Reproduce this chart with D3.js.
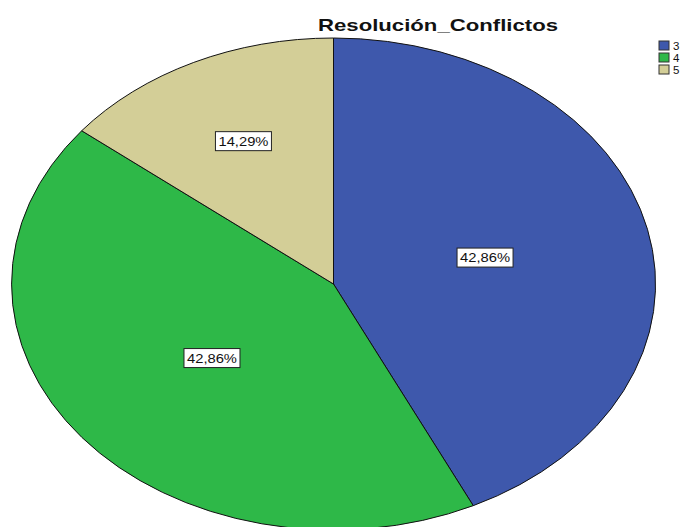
<!DOCTYPE html>
<html>
<head>
<meta charset="utf-8">
<script src="https://cdn.jsdelivr.net/npm/d3@7"></script>
<style>
  body { margin: 0; background: #fff; }
  svg { font-family: "Liberation Sans", Arial, sans-serif; }
</style>
</head>
<body>
<div id="wrapper"></div>
<script>
// data
const categories = ["3", "4", "5"]
const values = [42.86, 42.86, 14.29]
const labels = ["42,86%", "42,86%", "14,29%"]
const colors = ["#3e58ac", "#2eb848", "#d3ce97"]
const title = "Resolución_Conflictos"

const width = 686
const height = 527
const cx = 333.5, cy = 284
const rx = 322, ry = 246

const svg = d3.select("#wrapper")
    .append("svg")
    .attr("width", width)
    .attr("height", height)

const data = categories.map((c, i) => ({ cat: c, value: values[i], label: labels[i], color: colors[i] }))

const pie = d3.pie()
    .sort(null)
    .value(d => d.value)

const arcs = pie(data)

// unit circle arc, stretched into an ellipse
const arc = d3.arc().innerRadius(0).outerRadius(1)

const pieG = svg.append("g")
    .attr("transform", `translate(${cx},${cy}) scale(${rx},${ry})`)

pieG.selectAll("path")
    .data(arcs)
    .join("path")
    .attr("d", arc)
    .attr("fill", d => d.data.color)
    .attr("stroke", "#111")
    .attr("stroke-width", 1)
    .attr("vector-effect", "non-scaling-stroke")

// labels near the area centroid of each slice
const labelPos = d => {
    const half = (d.endAngle - d.startAngle) / 2
    const mid = (d.startAngle + d.endAngle) / 2
    const r = (2 / 3) * Math.sin(half) / half
    return [cx + Math.sin(mid) * r * rx, cy - Math.cos(mid) * r * ry]
}

const labelG = svg.append("g")
    .selectAll("g")
    .data(arcs)
    .join("g")
    .attr("transform", d => `translate(${labelPos(d)})`)

labelG.append("rect")
    .attr("x", -28)
    .attr("y", -9.5)
    .attr("width", 56)
    .attr("height", 19)
    .attr("fill", "#fff")
    .attr("stroke", "#222")
    .attr("stroke-width", 1)

labelG.append("text")
    .attr("text-anchor", "middle")
    .attr("dy", "0.36em")
    .attr("textLength", 50)
    .attr("lengthAdjust", "spacingAndGlyphs")
    .style("font-size", "13px")
    .attr("fill", "#111")
    .text(d => d.data.label)

// title
svg.append("text")
    .attr("x", 438)
    .attr("y", 31)
    .attr("text-anchor", "middle")
    .attr("textLength", 240)
    .attr("lengthAdjust", "spacingAndGlyphs")
    .style("font-size", "17px")
    .style("font-weight", "bold")
    .attr("fill", "#111")
    .text(title)

// legend
const legend = svg.append("g")
    .attr("transform", "translate(659,41)")

const legendItems = legend.selectAll("g")
    .data(data)
    .join("g")
    .attr("transform", (d, i) => `translate(0,${i * 12})`)

legendItems.append("rect")
    .attr("width", 10)
    .attr("height", 9)
    .attr("fill", d => d.color)
    .attr("stroke", "#333")
    .attr("stroke-width", 1)

legendItems.append("text")
    .attr("x", 14)
    .attr("y", 9)
    .style("font-size", "11.5px")
    .attr("fill", "#111")
    .text(d => d.cat)
</script>
</body>
</html>
